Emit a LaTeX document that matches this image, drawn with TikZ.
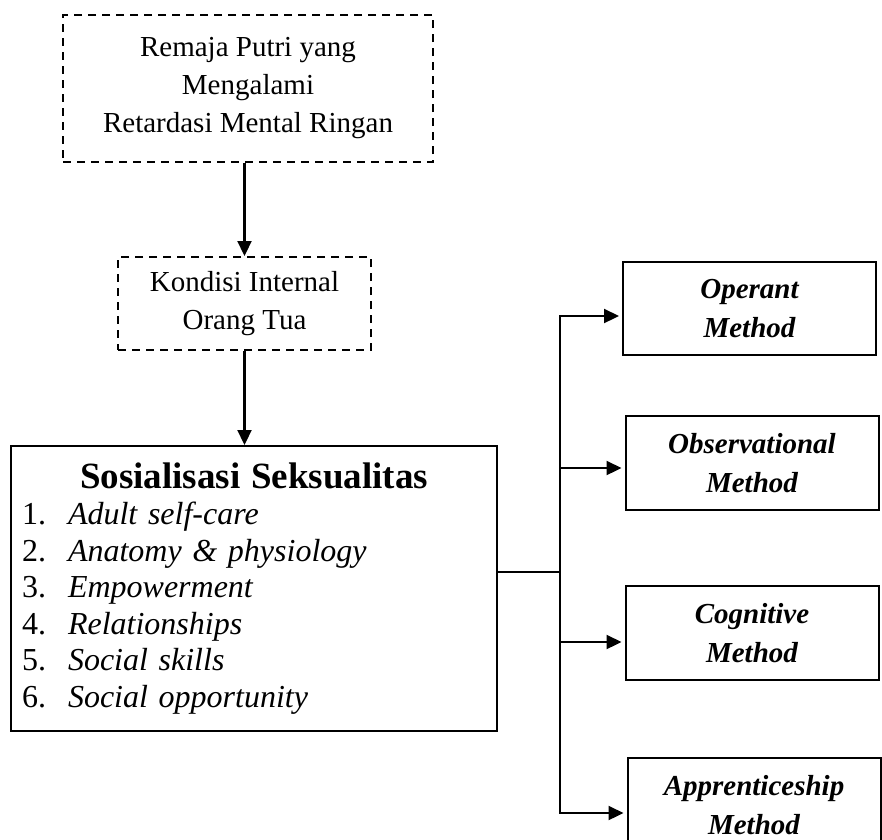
\documentclass[tikz,border=0pt]{standalone}
\usepackage{fontspec}
\setmainfont{Liberation Serif}
\usetikzlibrary{arrows.meta,positioning}

\begin{document}
\begin{tikzpicture}[
    x=1pt, y=-1pt,
    font=\fontsize{29}{38}\selectfont,
    dashbox/.style={draw, dash pattern=on 8pt off 6pt, line width=2pt,
                    align=center, inner sep=0pt},
    listbox/.style={draw, line width=2pt, align=left, inner xsep=11pt,
                    inner ysep=0pt, text width=464pt, minimum height=285pt,
                    font=\fontsize{32}{36.5}\selectfont},
    method/.style={draw, line width=2pt, align=center, inner sep=0pt,
                   minimum width=253pt, minimum height=94pt,
                   font=\fontsize{29}{39}\selectfont\bfseries\itshape},
    arr/.style={-{Triangle[length=15pt,width=14pt]}, line width=2.2pt},
    lnk/.style={-, line width=2.2pt, line cap=rect}
  ]
  \useasboundingbox (0,0) rectangle (882,839);
  \node[dashbox, minimum width=370pt, minimum height=147pt] (remaja) at (248,88.5)
    {Remaja Putri yang\\ Mengalami\\ Retardasi Mental Ringan};
  \node[dashbox, minimum width=253pt, minimum height=93pt,
        below=93pt of remaja, xshift=-3.5pt] (kondisi)
    {Kondisi Internal\\ Orang Tua};
  \node[listbox, below=94pt of kondisi, xshift=9.5pt] (sosial)
    {{\centering\fontsize{37}{44}\selectfont\bfseries Sosialisasi Seksualitas\par}
     \makebox[46pt][l]{1.}\textit{Adult self-care}\\
     \makebox[46pt][l]{2.}\textit{Anatomy \& physiology}\\
     \makebox[46pt][l]{3.}\textit{Empowerment}\\
     \makebox[46pt][l]{4.}\textit{Relationships}\\
     \makebox[46pt][l]{5.}\textit{Social skills}\\
     \makebox[46pt][l]{6.}\textit{Social opportunity}};

  \node[method, minimum height=93pt] (operant) at (749.5,308.5) {Operant\\ Method};
  \node[method, below=59pt of operant, xshift=2.5pt] (observ) {Observational\\ Method};
  \node[method, below=74pt of observ] (cognit) {Cognitive\\ Method};
  \node[method, below=76pt of cognit, xshift=2pt] (appren) {Apprenticeship\\ Method};

  \draw[arr] (remaja.south -| kondisi.north) -- (kondisi.north);
  \draw[arr] (kondisi.south) -- (kondisi.south |- sosial.north);

  \coordinate (split) at (560,572);
  \draw[lnk] (sosial.east |- split) -- (split);
  \draw[lnk] ([yshift=-7.5pt]operant.west -| split) -- ([yshift=-8pt]appren.west -| split);
  \foreach \b/\d in {operant/7.5, observ/5, cognit/9, appren/8}
    \draw[arr, shorten >=3pt] ([yshift=-\d pt]\b.west -| split) -- ([yshift=-\d pt]\b.west);
\end{tikzpicture}
\end{document}
